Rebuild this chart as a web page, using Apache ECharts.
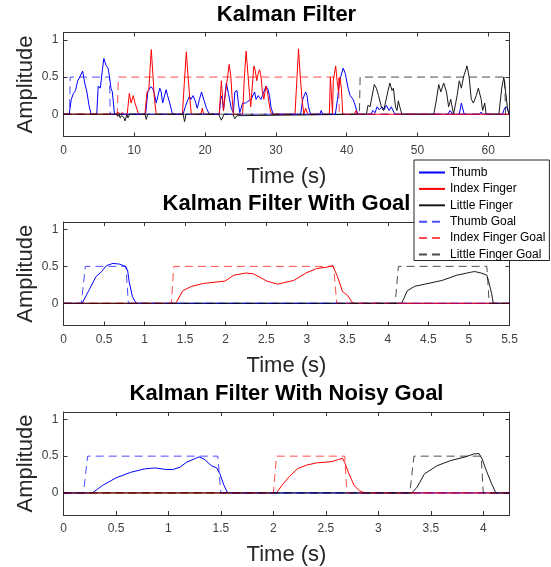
<!DOCTYPE html>
<html><head><meta charset="utf-8">
<script src="https://cdn.jsdelivr.net/npm/echarts@6/dist/echarts.min.js"></script>
<style>html,body{margin:0;padding:0;background:#fff}#c{width:551px;height:567px}</style>
</head><body><div id="c"></div><script>
// ---------- Tick labels ----------
const yTicks = [0, 0.5, 1];
const kfXTicks = [0, 10, 20, 30, 40, 50, 60];
const wgXTicks = [0, 0.5, 1, 1.5, 2, 2.5, 3, 3.5, 4, 4.5, 5, 5.5];
const ngXTicks = [0, 0.5, 1, 1.5, 2, 2.5, 3, 3.5, 4];
const seriesNames = ['Thumb', 'Index Finger', 'Little Finger', 'Thumb Goal', 'Index Finger Goal', 'Little Finger Goal'];

// ---------- Panel 1: Kalman Filter ----------
const kfThumb = [[0,0],[0.8,0],[1.1,0.2],[1.4,0.28],[1.7,0.32],[2.0,0.45],[2.3,0.5],[2.7,0.58],[3.0,0.42],[3.3,0.3],[3.6,0.12],[3.9,0],
 [4.7,0],[4.9,0.38],[5.2,0.35],[5.5,0.6],[5.7,0.75],[6.0,0.66],[6.3,0.62],[6.5,0.5],[6.7,0.35],[6.9,0.3],[7.2,0],
 [11.6,0],[11.9,0.3],[12.1,0.33],[12.3,0.37],[12.6,0.35],[12.9,0.25],[13.1,0.15],[13.6,0.35],[13.8,0.3],[14.0,0.15],[14.5,0.33],[14.7,0.25],[15.0,0.15],[15.4,0],
 [16.9,0],[17.2,0.1],[17.5,0.18],[17.8,0.24],[18.0,0.2],[18.3,0.25],[18.6,0.18],[18.9,0.08],[19.2,0.2],[19.5,0.3],[19.8,0.2],[20.2,0.08],[20.6,0],
 [22.0,0],[22.2,0.2],[22.4,0.25],[22.6,0.05],[22.8,0.25],[23.0,0.42],[23.3,0.28],[23.7,0.08],[24.0,0.02],[24.2,0.3],[24.5,0.32],[24.7,0.15],[24.9,0.02],[25.3,0.15],[25.7,0.15],[26.0,0.17],[26.5,0.2],[27.0,0.3],[27.2,0.2],[27.5,0.25],[27.9,0.2],[28.3,0.3],[28.6,0.38],[28.9,0.33],[29.1,0.25],[29.3,0.1],[29.6,0],
 [30.8,0],[31.0,0.02],[31.2,0],
 [33.5,0],[33.8,0.2],[34.2,0.3],[34.4,0.25],[34.6,0.1],[34.9,0],
 [36.2,0],[36.4,0.05],[36.6,0],
 [38.4,0],[38.7,0.2],[39.0,0.45],[39.5,0.62],[39.8,0.55],[40.2,0.35],[40.5,0.25],[40.9,0.2],[41.1,0.15],[41.4,0.05],[41.6,0],
 [43.4,0],[43.7,0.05],[44.0,0.02],[44.3,0.1],[44.6,0.06],[45.0,0.1],[45.3,0.06],[45.6,0.12],[46.0,0.05],[46.3,0.1],[46.8,0],
 [54.3,0],[54.6,0.05],[55.0,0],
 [55.9,0],[56.2,0.15],[56.6,0],
 [58.8,0],[59.0,0.03],[59.2,0],
 [62.0,0],[62.3,0.08],[62.6,0.1],[62.9,0.02],[63,0]];
const kfIndex = [[0,0],[7.5,0],[7.7,0.03],[8.0,0],[8.3,0.02],[8.6,0],[9.0,0],[9.3,0.28],[9.55,0.15],[9.85,0.25],[10.1,0.15],[10.35,0.13],[10.6,0],
 [11.5,0],[11.8,0.3],[12.05,0.33],[12.4,0.87],[12.65,0.5],[12.85,0.2],[13.1,0],
 [16.8,0],[17.05,0.4],[17.35,0.84],[17.6,0.5],[17.85,0.2],[18.06,0],
 [19.4,0],[19.6,0.08],[19.8,0],
 [22.0,0],[22.3,0.45],[22.6,0.05],[22.9,0.3],[23.15,0.48],[23.4,0.67],[23.65,0.5],[23.8,0.25],[24.0,0],
 [25.3,0],[25.55,0.5],[25.8,0.85],[26.0,0.83],[26.25,0.3],[26.45,0.1],[26.6,0.3],[26.9,0.65],[27.1,0.58],[27.3,0.45],[27.5,0.55],[27.7,0.6],[27.9,0.5],[28.1,0.3],[28.3,0.2],[28.6,0.38],[28.8,0.3],[29.2,0.05],[29.4,0],
 [32.7,0],[33.2,0.88],[33.45,0.5],[33.7,0.2],[33.95,0],[34.2,0.08],[34.5,0],
 [37.55,0],[37.7,0.5],[37.85,0.5],[38.0,0],[38.1,0.45],[38.45,0.65],[38.65,0.45],[38.85,0.3],[39.05,0.5],[39.25,0.35],[39.45,0],
 [41.1,0],[41.3,0.05],[41.5,0],[63,0]];
const kfLittle = [[0,0],[7.5,0],[7.65,-0.03],[7.85,0],[8.0,-0.05],[8.2,-0.02],[8.5,-0.04],[8.7,-0.09],[8.95,0],[9.1,-0.05],[9.35,0],
 [11.5,0],[11.7,-0.07],[11.9,0],
 [16.9,0],[17.1,-0.1],[17.3,0],
 [21.9,0],[22.3,-0.08],[22.7,0],
 [23.9,0],[24.2,-0.06],[24.5,-0.02],[24.7,0],
 [42.8,0],[43.0,0.12],[43.3,0.1],[43.9,0.4],[44.2,0.35],[44.5,0.25],[44.9,0.1],[45.2,0.05],[45.4,0.12],[45.8,0.3],[46.1,0.42],[46.4,0.32],[46.6,0.35],[46.9,0.1],[47.1,0.05],[47.3,0.18],[47.5,0.1],[47.8,0],
 [52.3,0],[52.6,0.15],[53.0,0.4],[53.3,0.3],[53.7,0.42],[54.1,0.3],[54.4,0.1],[54.7,0.2],[55.1,0],[55.6,0.25],[55.9,0.45],[56.2,0.35],[56.5,0.5],[57.0,0.65],[57.3,0.5],[57.6,0.2],[57.9,0.15],[58.3,0.25],[58.6,0.35],[59.0,0.2],[59.2,0.05],[59.5,0.15],[59.7,0],
 [61.5,0],[61.9,0.35],[62.2,0.5],[62.45,0.3],[62.7,0.1],[62.9,0],[63,0]];
const kfThumbGoal = [[0,0],[0.85,0],[0.95,0.5],[6.5,0.5],[6.6,0],[63,0]];
const kfIndexGoal = [[0,0],[7.6,0],[7.75,0.5],[38.85,0.5],[38.95,0],[63,0]];
const kfLittleGoal = [[0,0],[41.8,0],[41.9,0.5],[62.3,0.5],[62.45,0],[63,0]];

// ---------- Panel 2: Kalman Filter With Goal ----------
const wgThumb = [[0,0],[0.23,0],[0.32,0.19],[0.40,0.36],[0.47,0.43],[0.53,0.51],[0.61,0.54],[0.69,0.53],[0.76,0.5],[0.79,0.45],[0.81,0.29],[0.85,0.09],[0.89,0.01],[0.92,0],[5.5,0]];
const wgIndex = [[0,0],[1.385,0],[1.47,0.17],[1.58,0.23],[1.73,0.27],[1.99,0.30],[2.10,0.38],[2.25,0.41],[2.34,0.40],[2.51,0.30],[2.64,0.26],[2.84,0.31],[2.99,0.41],[3.12,0.47],[3.25,0.49],[3.32,0.51],[3.38,0.36],[3.44,0.16],[3.5,0.11],[3.57,0],[5.5,0]];
const wgLittle = [[0,0],[4.17,0],[4.24,0.17],[4.33,0.23],[4.46,0.26],[4.67,0.31],[4.85,0.38],[5.02,0.42],[5.07,0.43],[5.15,0.41],[5.22,0.38],[5.24,0.31],[5.28,0.13],[5.30,0],[5.5,0]];
const wgThumbGoal = [[0,0],[0.22,0],[0.27,0.5],[0.77,0.5],[0.8,0],[5.5,0]];
const wgIndexGoal = [[0,0],[1.33,0],[1.36,0.5],[3.33,0.5],[3.37,0],[5.5,0]];
const wgLittleGoal = [[0,0],[4.09,0],[4.13,0.5],[5.22,0.5],[5.25,0],[5.5,0]];

// ---------- Panel 3: Kalman Filter With Noisy Goal ----------
const ngThumb = [[0,0],[0.275,0],[0.37,0.10],[0.50,0.205],[0.64,0.28],[0.77,0.326],[0.87,0.34],[0.97,0.32],[1.04,0.317],[1.11,0.35],[1.17,0.415],[1.26,0.47],[1.29,0.49],[1.34,0.46],[1.41,0.37],[1.46,0.34],[1.49,0.26],[1.53,0.10],[1.56,0.01],[1.58,0],[4.25,0]];
const ngIndex = [[0,0],[2.03,0],[2.08,0.10],[2.15,0.22],[2.23,0.33],[2.32,0.38],[2.42,0.41],[2.52,0.42],[2.57,0.43],[2.62,0.455],[2.66,0.47],[2.68,0.41],[2.72,0.26],[2.77,0.10],[2.82,0.03],[2.87,0],[4.25,0]];
const ngLittle = [[0,0],[3.32,0],[3.37,0.08],[3.44,0.26],[3.56,0.37],[3.69,0.44],[3.83,0.49],[3.91,0.53],[3.96,0.535],[3.99,0.46],[4.03,0.30],[4.08,0.125],[4.12,0],[4.25,0]];
const ngThumbGoal = [[0,0],[0.19,0],[0.23,0.5],[1.47,0.5],[1.5,0],[4.25,0]];
const ngIndexGoal = [[0,0],[2.0,0],[2.03,0.5],[2.68,0.5],[2.70,0],[4.25,0]];
const ngLittleGoal = [[0,0],[3.30,0],[3.34,0.5],[3.98,0.5],[4.0,0],[4.25,0]];

// ---------- Build chart ----------
const FONT = '"Liberation Sans", Arial, Helvetica, sans-serif';
const AX = '#333333';
const colors = ['#0000ff', '#ff0000', '#1a1a1a', '#0000ff', '#ff0000', '#000000'];
const panels = [
  {title: 'Kalman Filter', top: 32.5, height: 104, titleY: 15, xMax: 63, xTicks: kfXTicks,
   data: [kfThumb, kfIndex, kfLittle, kfThumbGoal, kfIndexGoal, kfLittleGoal]},
  {title: 'Kalman Filter With Goal', top: 222, height: 103.5, titleY: 204, xMax: 5.5, xTicks: wgXTicks,
   data: [wgThumb, wgIndex, wgLittle, wgThumbGoal, wgIndexGoal, wgLittleGoal]},
  {title: 'Kalman Filter With Noisy Goal', top: 412, height: 103, titleY: 394, xMax: 4.25, xTicks: ngXTicks,
   data: [ngThumb, ngIndex, ngLittle, ngThumbGoal, ngIndexGoal, ngLittleGoal]}
];
const grid = [], xAxis = [], yAxis = [], series = [], graphic = [];
const GL = 63.5, GW = 446;
panels.forEach((p, i) => {
  grid.push({left: GL, top: p.top, width: GW, height: p.height, show: false});
  const line = {show: true, onZero: false, lineStyle: {color: AX, width: 1}};
  xAxis.push({gridIndex: i, type: 'value', min: 0, max: p.xMax, position: 'bottom',
    axisLine: line,
    axisTick: {show: true, inside: true, length: 4, customValues: p.xTicks, lineStyle: {color: AX}},
    axisLabel: {show: true, customValues: p.xTicks, margin: 8, fontSize: 12, color: '#404040', fontFamily: FONT},
    splitLine: {show: false},
    name: 'Time (s)', nameLocation: 'middle', nameGap: 29,
    nameTextStyle: {fontSize: 22, color: '#262626', fontFamily: FONT}});
  xAxis.push({gridIndex: i, type: 'value', min: 0, max: p.xMax, position: 'top',
    axisLine: line,
    axisTick: {show: true, inside: true, length: 4, customValues: p.xTicks, lineStyle: {color: AX}},
    axisLabel: {show: false}, splitLine: {show: false}});
  yAxis.push({gridIndex: i, type: 'value', min: -0.3, max: 1.1, position: 'left',
    axisLine: line,
    axisTick: {show: true, inside: true, length: 4, customValues: yTicks, lineStyle: {color: AX}},
    axisLabel: {show: true, customValues: yTicks, margin: 5, fontSize: 12, color: '#404040', fontFamily: FONT},
    splitLine: {show: false},
    name: 'Amplitude', nameLocation: 'middle', nameGap: 27, nameMoveOverlap: false,
    nameTextStyle: {fontSize: 22, color: '#262626', fontFamily: FONT}});
  yAxis.push({gridIndex: i, type: 'value', min: -0.3, max: 1.1, position: 'right',
    axisLine: line,
    axisTick: {show: true, inside: true, length: 4, customValues: yTicks, lineStyle: {color: AX}},
    axisLabel: {show: false}, splitLine: {show: false}});
  p.data.forEach((d, k) => {
    const goal = k >= 3;
    series.push({name: seriesNames[k], type: 'line', xAxisIndex: 2 * i, yAxisIndex: 2 * i,
      data: d, symbol: 'none', silent: true,
      lineStyle: {color: colors[k], width: 1, type: goal ? [8, 5] : 'solid', opacity: goal ? 0.7 : 1},
      itemStyle: {color: colors[k]}});
  });
  graphic.push({type: 'text', x: GL + GW / 2, y: p.titleY,
    style: {text: p.title, font: 'bold 22px ' + FONT, fill: '#000',
      textAlign: 'center', textVerticalAlign: 'middle', align: 'center', verticalAlign: 'middle'}});
});

const chart = echarts.init(document.getElementById('c'), null, {renderer: 'canvas'});
chart.setOption({
  animation: false,
  backgroundColor: '#ffffff',
  grid, xAxis, yAxis, series, graphic,
  legend: {
    data: seriesNames, orient: 'vertical', left: 414, top: 160,
    itemWidth: 26, itemHeight: 12, itemGap: 4.4, padding: [6.5, 4, 0, 4],
    itemStyle: {color: 'transparent', borderColor: 'transparent', borderWidth: 0, opacity: 0},
    backgroundColor: '#ffffff', borderColor: '#262626', borderWidth: 1, borderRadius: 0,
    textStyle: {fontSize: 12, color: '#000', fontFamily: FONT}
  }
});
</script></body></html>
